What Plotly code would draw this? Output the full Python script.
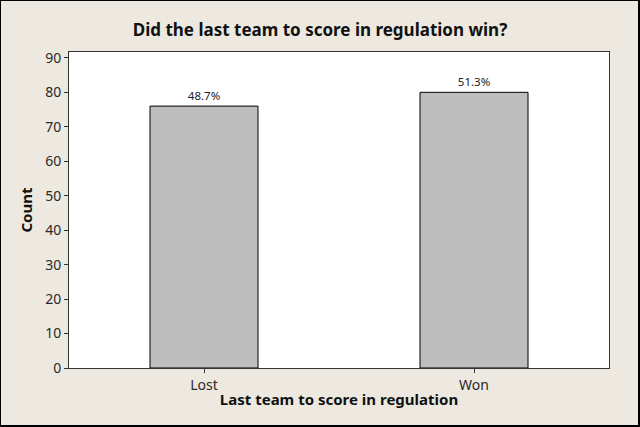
import plotly.graph_objects as go

categories = ["Lost", "Won"]
counts = [76, 80]
percent_labels = ["48.7%", "51.3%"]

bg = "#EDE9E0"
font_name = "Noto Sans"

fig = go.Figure()
fig.add_trace(go.Bar(x=categories, y=counts,
                     text=percent_labels,
                     textposition="outside",
                     textfont=dict(size=11.5, color="#222222", family=font_name),
                     cliponaxis=False,
                     width=0.4,
                     marker=dict(color="#BEBEBE", line=dict(color="#000000", width=1))))

fig.update_layout(
    width=640, height=427,
    paper_bgcolor=bg,
    plot_bgcolor="white",
    margin=dict(l=69, r=31, t=52, b=59),
    showlegend=False,
    font=dict(family=font_name, color="#222222"),
    title=dict(text="<b>Did the last team to score in regulation win?</b>",
               x=0.5, xanchor="center", y=0.93, yanchor="middle",
               font=dict(size=17, color="#111111")),
    # black frame round the whole picture
    shapes=[dict(type="rect", xref="paper", yref="paper",
                 x0=-69/540, x1=1 + 30/540, y0=-58/316, y1=1 + 52/316,
                 line=dict(color="#000000", width=2), fillcolor="rgba(0,0,0,0)")],
)
fig.update_xaxes(
    range=[-0.5, 1.5],
    title=dict(text="<b>Last team to score in regulation</b>", font=dict(size=15, color="#111111"), standoff=1),
    tickfont=dict(size=14, color="#2a2a2a"),
    ticks="outside", ticklen=4, tickcolor="#333333",
    showline=True, linecolor="#333333", linewidth=1, mirror=True,
    showgrid=False,
)
fig.update_yaxes(
    range=[0, 91.7],
    tickvals=[0, 10, 20, 30, 40, 50, 60, 70, 80, 90],
    title=dict(text="<b>Count</b>", font=dict(size=15, color="#111111"), standoff=8),
    tickfont=dict(size=14, color="#2a2a2a"),
    ticks="outside", ticklen=4, tickcolor="#333333",
    showline=True, linecolor="#333333", linewidth=1, mirror=True,
    showgrid=False, zeroline=False,
)
fig.write_html("out.html", config={"displayModeBar": False},
               post_script="document.body.style.margin='0';")
